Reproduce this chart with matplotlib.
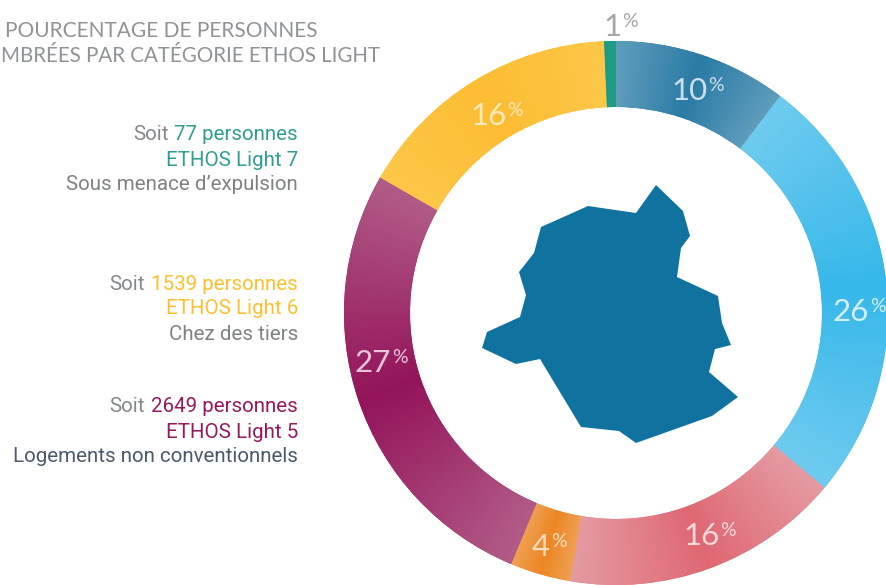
import numpy as np
import matplotlib
matplotlib.use('Agg')
import matplotlib.pyplot as plt
from matplotlib.colors import to_rgb
from matplotlib.patches import Polygon

# slices, clockwise from the top
percents = [10, 26, 16, 4, 27, 16, 1]
# the drawn arcs differ a little from the rounded labels
sliceSizes = [10.3, 25.8, 16.6, 3.6, 27.0, 16.0, 0.7]
centerColors = ['#2a7ba6', '#36b8ea', '#df6873', '#ee8624', '#93145a', '#fdbd33', '#1f9a84']
edgeColors = ['#5f9dbb', '#6fcbef', '#e59ba2', '#efa052', '#b25c88', '#fcc748', '#1f9a84']

# left hand texts
peopleCounts = [77, 1539, 2649]
ethosNames = ['ETHOS Light 7', 'ETHOS Light 6', 'ETHOS Light 5']
situations = ['Sous menace d\u2019expulsion', 'Chez des tiers', 'Logements non conventionnels']
groupColors = ['#2f9d90', '#fcc02e', '#96195f']
situationColors = ['#7f8285', '#7f8285', '#4b5a6b']
groupTops = [135, 284, 407]

titleLines = ['POURCENTAGE DE PERSONNES', 'MBR\u00c9ES PAR CAT\u00c9GORIE ETHOS LIGHT']

# outline of the region in the middle, in picture pixels
regionX = [656, 683, 690, 681, 677, 718, 722, 731, 715, 709, 738, 712, 636, 619, 581, 540, 516, 482, 487, 520, 526, 519, 534, 541, 588, 636]
regionY = [185, 211, 236, 248, 277, 296, 323, 345, 349, 372, 397, 416, 443, 431, 427, 359, 364, 348, 332, 317, 295, 272, 253, 227, 206, 213]

# where each percent label sits: left of number, baseline
labelX = [671, 833, 683, 532, 355, 470, 603]
labelBase = [100, 321, 545, 556, 372, 125, 36]
labelColors = ['#dcecf3', '#e6f6fc', '#fbe6e6', '#fde6cf', '#f1d9e5', '#fff0cf', '#9a9c9f']

H = 585
cx, cy, rOut, rIn = 616, 313, 272, 206

fig = plt.figure(figsize=(8.87, 5.85), dpi=100)
ax = fig.add_axes([0, 0, 1, 1])

wedges, _ = ax.pie(sliceSizes, center=(cx, H - cy), radius=rOut, startangle=90, counterclock=False,
                   colors=centerColors, wedgeprops={'width': rOut - rIn, 'linewidth': 0})

# each slice fades from its middle towards its two edges
xx, yy = np.meshgrid(np.arange(887) + 0.5, np.arange(H) + 0.5)
angle = np.degrees(np.arctan2(xx - cx, yy - (H - cy))) % 360
start = 0
for i, p in enumerate(sliceSizes):
    half = p * 3.6 / 2
    mid = start + half
    t = np.clip(np.abs(angle - mid) / half, 0, 1)[..., None]
    img = np.array(to_rgb(centerColors[i])) * (1 - t) + np.array(to_rgb(edgeColors[i])) * t
    im = ax.imshow(img, extent=(0, 887, 0, H), origin='lower', zorder=2, interpolation='bilinear')
    im.set_clip_path(wedges[i])
    start += p * 3.6

ax.add_patch(Polygon(list(zip(regionX, [H - y for y in regionY])), closed=True, facecolor='#10729f',
                     edgecolor='none', zorder=3))

ax.set_xlim(0, 887)
ax.set_ylim(0, H)
ax.set_aspect('auto')
ax.axis('off')

# percent labels, with a small raised percent sign
renderer = fig.canvas.get_renderer()
for i, p in enumerate(percents):
    num = ax.text(labelX[i], H - labelBase[i], str(p), family='Lato', fontsize=22.5, alpha=0.9,
                  color=labelColors[i], ha='left', va='baseline', zorder=5)
    box = num.get_window_extent(renderer)
    ax.text(box.x1 + 1, H - labelBase[i] + 9, '%', family='Lato', fontsize=14, alpha=0.9,
            color=labelColors[i], ha='left', va='baseline', zorder=5)

# title, the source picture cuts the second line at its left side
ax.text(5, H - 31, titleLines[0], family='Lato', fontsize=15, color='#8f9296',
        ha='left', va='center')
ax.text(380, H - 56, titleLines[1], family='Lato', fontsize=14.8, color='#8f9296',
        ha='right', va='center')

# three text blocks on the left
for i in range(3):
    top = groupTops[i]
    part = ax.text(298, H - top, '%d personnes' % peopleCounts[i], family='Roboto', fontsize=14.8,
                   color=groupColors[i], ha='right', va='center')
    box = part.get_window_extent(renderer)
    ax.text(box.x0 - 6, H - top, 'Soit', family='Roboto', fontsize=14.8, color='#85888c',
            ha='right', va='center')
    ax.text(298, H - top - 25, ethosNames[i], family='Roboto', fontsize=14.8, color=groupColors[i],
            ha='right', va='center')
    ax.text(298, H - top - 50, situations[i], family='Roboto', fontsize=14.8, color=situationColors[i],
            ha='right', va='center')

fig.savefig('out.png', dpi=100, facecolor='white')
